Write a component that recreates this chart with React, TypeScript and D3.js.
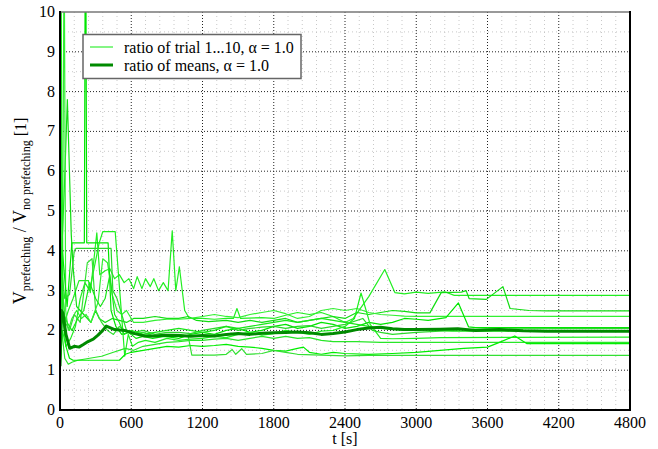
import React from "react";
import * as d3 from "d3";

type Pt = [number, number];

// Tick values
const xTicks = [0, 600, 1200, 1800, 2400, 3000, 3600, 4200, 4800];
const yTicks = [0, 1, 2, 3, 4, 5, 6, 7, 8, 9, 10];

// Legend labels
const legendTrial = "ratio of trial 1...10, α = 1.0";
const legendMean = "ratio of means, α = 1.0";

// Per-trial ratio curves [t (s), ratio]
const trial1: Pt[] = [[0,1.1],[12,6.9],[25,3.0],[40,2.2],[70,2.5],[110,2.8],[160,3.25],[240,3.25],[255,2.95],[290,3.9],[310,4.45],[335,3.4],[380,3.5],[420,3.55],[460,3.3],[500,3.4],[540,3.2],[580,3.3],[620,3.05],[650,3.35],[690,3.05],[720,3.3],[760,3.1],[790,3.3],[830,3.0],[870,3.2],[910,3.0],[945,4.5],[975,3.0],[1005,3.6],[1050,2.5],[1090,2.3],[1200,2.3],[1300,2.28],[1400,2.3],[1460,2.3],[1490,2.55],[1520,2.3],[1700,2.32],[1800,2.3],[1900,2.38],[2000,2.45],[2100,2.4],[2200,2.45],[2300,2.35],[2400,2.2],[2470,2.3],[2600,2.85],[2735,3.53],[2820,2.95],[2900,2.92],[3000,2.96],[3100,2.93],[3240,2.97],[3320,2.88],[4800,2.88]];
const trial2: Pt[] = [[0,1.0],[15,4.0],[40,5.85],[62,7.8],[95,4.4],[110,3.6],[140,2.6],[200,2.4],[260,2.2],[300,2.5],[330,2.3],[380,2.2],[440,2.3],[500,2.25],[560,2.2],[620,2.3],[700,2.3],[800,2.35],[900,2.3],[1000,2.3],[1080,2.35],[1150,2.25],[1250,2.22],[1400,2.25],[1500,2.2],[1600,2.25],[1700,2.2],[1800,2.25],[1900,2.3],[2000,2.2],[2100,2.25],[2200,2.3],[2300,2.35],[2400,2.3],[2500,2.45],[2600,2.4],[2700,2.45],[2800,2.5],[2900,2.48],[3000,2.44],[3115,2.44],[3210,2.95],[3380,2.96],[3420,3.0],[3445,2.8],[3590,2.78],[3730,3.1],[3790,2.55],[3950,2.5],[4100,2.49],[4800,2.49]];
const trial3: Pt[] = [[0,1.0],[20,3.0],[35,12],[48,2.5],[70,2.0],[100,2.3],[140,2.5],[180,2.3],[220,2.4],[260,2.2],[320,2.7],[360,3.8],[400,3.7],[440,2.9],[480,2.5],[520,2.4],[560,2.5],[620,2.2],[700,2.2],[800,2.25],[900,2.28],[1000,2.28],[1100,2.3],[1200,2.35],[1300,2.4],[1400,2.35],[1500,2.32],[1600,2.4],[1700,2.45],[1800,2.5],[1900,2.42],[2000,2.3],[2100,2.35],[2200,2.5],[2300,2.55],[2400,2.5],[2500,2.55],[2600,2.45],[2700,2.4],[2800,2.38],[2900,2.36],[3000,2.35],[4800,2.35]];
const trial4: Pt[] = [[0,1.2],[20,4.0],[60,2.6],[100,4.2],[135,4.2],[205,4.2],[215,14],[225,4.2],[405,4.2],[430,2.5],[470,2.1],[520,1.9],[580,1.95],[640,1.8],[700,1.85],[780,1.8],[880,1.85],[1000,1.8],[1100,1.9],[1200,1.95],[1300,1.9],[1400,2.0],[1500,2.05],[1600,1.95],[1700,2.0],[1800,2.1],[1900,2.15],[2000,2.05],[2100,2.1],[2200,2.2],[2300,2.15],[2400,2.05],[2500,2.1],[2600,2.2],[2700,2.15],[2800,2.2],[2900,2.3],[3000,2.28],[3100,2.25],[3250,2.32],[3355,2.69],[3440,2.09],[3500,2.07],[4800,2.07]];
const trial5: Pt[] = [[0,1.3],[15,3.5],[40,2.8],[80,2.9],[120,4.0],[135,4.06],[430,4.06],[445,3.0],[480,2.8],[520,2.4],[560,2.0],[620,1.95],[700,2.0],[800,1.9],[900,1.95],[1000,1.95],[1100,1.92],[1200,2.0],[1300,2.05],[1400,2.1],[1500,2.0],[1600,2.05],[1700,2.08],[1800,2.1],[1900,2.05],[2000,2.1],[2100,2.12],[2200,2.05],[2300,2.1],[2400,2.15],[2550,2.3],[2630,2.0],[2700,1.95],[2800,1.9],[3000,1.95],[3200,1.98],[3400,2.02],[3600,2.04],[4800,2.05]];
const trial6: Pt[] = [[0,1.0],[20,2.0],[50,1.6],[90,1.8],[130,2.1],[170,2.8],[210,3.2],[250,3.0],[290,3.6],[330,4.2],[360,4.48],[465,4.48],[545,1.35],[575,1.9],[610,1.6],[660,1.7],[720,1.75],[800,1.7],[900,1.8],[1000,1.75],[1100,1.78],[1200,1.8],[1300,1.85],[1400,1.82],[1500,1.9],[1600,1.95],[1700,1.88],[1800,1.92],[1900,2.0],[2000,1.95],[2100,1.9],[2200,1.98],[2300,2.0],[2400,2.1],[2480,2.3],[2535,2.94],[2612,2.15],[2700,1.8],[2800,1.79],[3000,1.8],[3200,1.82],[4800,1.83]];
const trial7: Pt[] = [[0,1.0],[15,2.0],[40,1.3],[70,1.15],[100,1.2],[150,1.25],[250,1.3],[350,1.35],[450,1.45],[550,1.55],[620,1.5],[700,1.6],[800,1.65],[900,1.7],[1000,1.72],[1100,1.75],[1200,1.75],[1300,1.78],[1400,1.8],[1500,1.75],[1600,1.8],[1700,1.85],[1800,1.8],[1900,1.85],[2000,1.8],[2100,1.82],[2200,1.75],[2300,1.72],[2500,1.72],[2700,1.7],[3000,1.7],[4800,1.7]];
const trial8: Pt[] = [[0,1.1],[20,2.4],[50,1.6],[80,1.3],[110,1.25],[500,1.25],[550,1.4],[600,1.45],[700,1.5],[800,1.55],[900,1.6],[1000,1.58],[1100,1.62],[1200,1.6],[1300,1.62],[1400,1.65],[1500,1.6],[1600,1.58],[1700,1.55],[1800,1.5],[1900,1.48],[2000,1.55],[2050,1.58],[2100,1.45],[2200,1.4],[2300,1.45],[2400,1.42],[2600,1.4],[2800,1.42],[3000,1.45],[3200,1.5],[3400,1.55],[3600,1.58],[3700,1.7],[3830,1.86],[3930,1.67],[4800,1.67]];
const trial9: Pt[] = [[0,1.2],[20,3.0],[45,2.2],[80,2.0],[120,2.4],[170,2.2],[230,3.7],[270,3.8],[300,2.5],[350,2.2],[400,2.0],[450,1.9],[500,2.1],[550,2.0],[600,1.9],[700,1.95],[800,1.85],[900,1.9],[1000,1.9],[1080,1.85],[1110,1.38],[1300,1.38],[1400,1.4],[1450,1.52],[1480,1.4],[1530,1.54],[1570,1.4],[1700,1.42],[1800,1.5],[1900,1.45],[2000,1.4],[2200,1.38],[2400,1.36],[2600,1.37],[4800,1.37]];
const trial10: Pt[] = [[0,1.0],[8,12],[20,2.5],[60,2.2],[100,2.0],[150,2.3],[200,2.5],[250,3.2],[300,2.8],[340,2.6],[380,2.8],[420,3.4],[460,2.4],[500,2.2],[540,1.9],[600,2.0],[700,1.9],[800,1.95],[900,2.0],[1000,2.05],[1100,2.0],[1200,1.95],[1300,2.0],[1400,2.1],[1500,2.05],[1600,2.1],[1700,2.15],[1800,2.2],[1900,2.25],[2000,2.2],[2100,2.25],[2200,2.3],[2300,2.25],[2400,2.2],[2500,2.15],[2600,2.1],[2700,2.05],[2900,2.0],[3100,2.02],[3300,1.98],[4800,1.98]];

// Ratio of the mean volumes
const meanRatio: Pt[] = [[0,1.1],[12,2.5],[25,2.43],[50,1.9],[82,1.55],[120,1.6],[160,1.58],[200,1.65],[236,1.72],[280,1.78],[320,1.88],[360,2.0],[390,2.11],[460,2.02],[545,2.0],[629,1.92],[713,1.86],[800,1.86],[880,1.88],[1000,1.87],[1100,1.85],[1200,1.87],[1300,1.86],[1400,1.9],[1500,1.92],[1600,1.9],[1700,1.93],[1800,1.94],[1900,1.95],[2000,1.96],[2100,1.94],[2200,1.9],[2300,1.92],[2400,1.96],[2500,2.02],[2600,2.06],[2700,2.08],[2800,2.04],[2900,2.02],[3000,2.02],[3200,2.03],[3350,2.04],[3500,2.0],[3700,2.02],[3900,1.99],[4100,1.98],[4800,1.98]];

const trials: Pt[][] = [trial1, trial2, trial3, trial4, trial5, trial6, trial7, trial8, trial9, trial10];
const trialColors = ["#22ee22", "#11dd11", "#33f033", "#00e600", "#2ad82a", "#1ef01e", "#28e628", "#00ee00", "#33e033", "#19e619"];

const W = 658;
const H = 449;
const left = 60, right = 630, top = 12, bottom = 410;
const serif = "Liberation Serif";

export default function App() {
  const x = d3.scaleLinear().domain([0, 4800]).range([left, right]);
  const y = d3.scaleLinear().domain([0, 10]).range([bottom, top]);
  const line = d3.line<Pt>().x(d => x(d[0])).y(d => y(d[1]));

  const xMinor = d3.range(0, 4800 + 1, 120).filter(v => v % 600 !== 0);
  const yMinor = d3.range(0.5, 10, 1);
  const ts = { fontFamily: serif };

  return (
    <svg width={W} height={H} style={{ position: "absolute", left: 0, top: 0, background: "#fff" }}>
      <defs>
        <clipPath id="plot">
          <rect x={left} y={top} width={right - left} height={bottom - top} />
        </clipPath>
      </defs>
      {/* minor grid */}
      {xMinor.map(v => (
        <line key={"xm" + v} x1={x(v)} x2={x(v)} y1={top} y2={bottom} stroke="#c8c8c8" strokeWidth={1} strokeDasharray="1,3" />
      ))}
      {yMinor.map(v => (
        <line key={"ym" + v} x1={left} x2={right} y1={y(v)} y2={y(v)} stroke="#c8c8c8" strokeWidth={1} strokeDasharray="1,3" />
      ))}
      {/* major grid */}
      {xTicks.slice(1, -1).map(v => (
        <line key={"xM" + v} x1={x(v)} x2={x(v)} y1={top} y2={bottom} stroke="#222" strokeWidth={1} strokeDasharray="1,2" />
      ))}
      {yTicks.slice(1, -1).map(v => (
        <line key={"yM" + v} x1={left} x2={right} y1={y(v)} y2={y(v)} stroke="#222" strokeWidth={1} strokeDasharray="1,2" />
      ))}
      {/* curves */}
      <g clipPath="url(#plot)" fill="none">
        {trials.map((t, i) => (
          <path key={i} d={line(t) || ""} stroke={trialColors[i]} strokeWidth={1.2} strokeLinejoin="round" />
        ))}
        <path d={line(meanRatio) || ""} stroke="#008a00" strokeWidth={3} strokeLinejoin="round" />
      </g>
      {/* frame */}
      <line x1={left} x2={right} y1={top} y2={top} stroke="#777" strokeWidth={1.5} />
      <line x1={left} x2={left} y1={top - 1} y2={bottom + 1} stroke="#000" strokeWidth={2} />
      <line x1={right} x2={right} y1={top - 1} y2={bottom + 1} stroke="#000" strokeWidth={2} />
      <line x1={left - 1} x2={right + 1} y1={bottom} y2={bottom} stroke="#000" strokeWidth={2} />
      {/* tick labels */}
      {xTicks.map(v => (
        <text key={"xt" + v} style={ts} x={x(v)} y={428} textAnchor="middle" fontSize={16}>{v}</text>
      ))}
      {yTicks.map(v => (
        <text key={"yt" + v} style={ts} x={55} y={y(v) + 5} textAnchor="end" fontSize={16}>{v}</text>
      ))}
      <text style={ts} x={x(2400)} y={444} textAnchor="middle" fontSize={16}>t [s]</text>
      {/* y axis title */}
      <text style={ts} transform={`translate(26, ${(top + bottom) / 2}) rotate(-90)`} textAnchor="middle" fontSize={18}>
        <tspan>V</tspan>
        <tspan fontSize={12} dy={4}>prefetching</tspan>
        <tspan dy={-4}> / V</tspan>
        <tspan fontSize={12} dy={4}>no prefetching</tspan>
        <tspan dy={-4} fontSize={16}>{"   [1]"}</tspan>
      </text>
      {/* legend */}
      <rect x={83} y={34.5} width={218} height={44} fill="#fff" stroke="#666" strokeWidth={1.5} />
      <line x1={90} x2={113} y1={47} y2={47} stroke="#33ee33" strokeWidth={1.2} />
      <line x1={90} x2={113} y1={65} y2={65} stroke="#008a00" strokeWidth={3} />
      <text style={ts} x={124} y={52.5} fontSize={16}>{legendTrial}</text>
      <text style={ts} x={124} y={70.5} fontSize={16}>{legendMean}</text>
    </svg>
  );
}
